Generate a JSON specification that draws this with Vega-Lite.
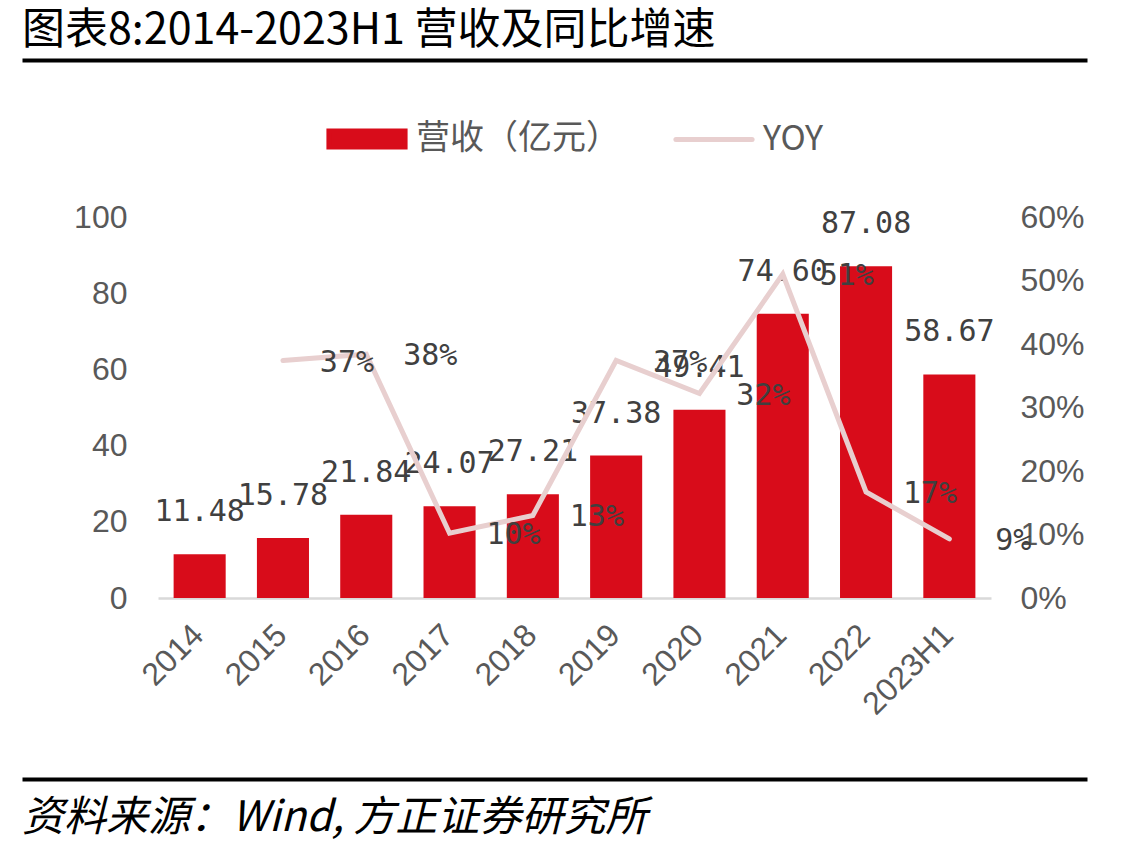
{
  "$schema": "https://vega.github.io/schema/vega-lite/v6.json",
  "background": "white",
  "padding": {"left": 22, "top": 10, "right": 0, "bottom": 0},
  "spacing": 0,
  "resolve": {"legend": {"color": "independent"}, "scale": {"color": "independent", "x": "independent"}},
  "config": {"view": {"stroke": null}, "legend": {"layout": {"top": {"anchor": "middle"}}}},
  "data": {"values": [
    {"year": "2014", "rev": 11.48, "yoy": null},
    {"year": "2015", "rev": 15.78, "yoy": 0.374},
    {"year": "2016", "rev": 21.84, "yoy": 0.384},
    {"year": "2017", "rev": 24.07, "yoy": 0.102},
    {"year": "2018", "rev": 27.21, "yoy": 0.130},
    {"year": "2019", "rev": 37.38, "yoy": 0.374},
    {"year": "2020", "rev": 49.41, "yoy": 0.322},
    {"year": "2021", "rev": 74.60, "yoy": 0.510},
    {"year": "2022", "rev": 87.08, "yoy": 0.167},
    {"year": "2023H1", "rev": 58.67, "yoy": 0.093}
  ]},
  "vconcat": [
    {
      "width": 929,
      "height": 38,
      "title": {"text": "图表8:2014-2023H1 营收及同比增速", "anchor": "start", "frame": "group", "fontSize": 43, "font": "Noto Sans CJK SC", "fontWeight": "normal", "color": "#000000", "offset": 7, "dx": -136},
      "mark": {"type": "point", "opacity": 0},
      "encoding": {
        "x": {"field": "rev", "type": "quantitative", "scale": {"domain": [0, 100], "range": [-136, 929]},
          "axis": {"orient": "top", "domain": true, "domainColor": "#000000", "domainWidth": 4, "ticks": false, "labels": false, "grid": false, "title": null}}
      }
    },
    {
      "resolve": {"legend": {"color": "independent"}},
      "hconcat": [
        {
          "width": 833,
          "height": 381,
          "encoding": {
            "x": {"field": "year", "type": "nominal", "sort": null,
              "scale": {"paddingInner": 0.375, "paddingOuter": 0.1875},
              "axis": {"title": null, "labelAngle": -45, "labelFontSize": 32, "labelFont": "Liberation Sans", "labelColor": "#595959", "ticks": false, "domainColor": "#D9D9D9", "domainWidth": 2.5, "labelPadding": 21, "labelOffset": -12, "grid": false}}
          },
          "layer": [
            {
              "encoding": {
                "y": {"field": "rev", "type": "quantitative", "scale": {"domain": [0, 100], "nice": false},
                  "axis": {"title": null, "values": [0, 20, 40, 60, 80, 100], "grid": false, "domain": false, "ticks": false, "labelFontSize": 32, "labelFont": "Liberation Sans", "labelColor": "#595959", "labelPadding": 31, "minExtent": 136, "maxExtent": 200}}
              },
              "layer": [
                {
                  "mark": {"type": "bar", "color": "#D80C1A"},
                  "encoding": {
                    "color": {"datum": "营收（亿元）", "scale": {"domain": ["营收（亿元）", "YOY"], "range": ["#D80C1A", "#E8CFCF"]},
                      "legend": {"title": null, "orient": "top", "direction": "horizontal", "symbolSize": 5800, "labelFontSize": 34, "labelFont": "Noto Sans CJK SC", "labelColor": "#595959", "labelOffset": 8, "labelLimit": 400, "columnPadding": 45, "offset": 60,
                        "encode": {"symbols": {"update": {
                          "shape": {"signal": "datum.value === 'YOY' ? 'M-1,0H1' : 'M-1,-0.21H1V0.21H-1Z'"},
                          "fill": {"signal": "datum.value === 'YOY' ? 'transparent' : '#D80C1A'"},
                          "stroke": {"signal": "datum.value === 'YOY' ? '#E8CFCF' : 'transparent'"},
                          "strokeWidth": {"value": 5},
                          "strokeCap": {"value": "round"},
                          "opacity": {"value": 1}
                        }}}}
                    }
                  }
                },
                {
                  "mark": {"type": "text", "font": "DejaVu Sans Mono", "fontSize": 30, "color": "#404040", "baseline": "middle", "align": "center", "dy": -42},
                  "encoding": {"text": {"field": "rev", "type": "quantitative", "format": ".2f"}}
                }
              ]
            },
            {
              "transform": [{"filter": "datum.yoy != null"}],
              "encoding": {
                "y": {"field": "yoy", "type": "quantitative", "scale": {"domain": [0, 0.6], "nice": false},
                  "axis": {"orient": "right", "title": null, "format": ".0%", "values": [0, 0.1, 0.2, 0.3, 0.4, 0.5, 0.6], "grid": false, "domain": false, "ticks": false, "labelFontSize": 32, "labelFont": "Liberation Sans", "labelColor": "#595959", "labelPadding": 29}}
              },
              "layer": [
                {
                  "mark": {"type": "line", "strokeWidth": 5, "strokeCap": "round"},
                  "encoding": {"color": {"datum": "YOY"}}
                },
                {
                  "mark": {"type": "text", "font": "DejaVu Sans Mono", "fontSize": 30, "color": "#404040", "baseline": "middle", "align": "center", "dx": 64, "dy": 2},
                  "encoding": {"text": {"field": "yoy", "type": "quantitative", "format": ".0%"}}
                }
              ]
            }
          ],
          "resolve": {"scale": {"y": "independent"}}
        }
      ]
    },
    {
      "width": 929,
      "height": 58,
      "title": {"text": "资料来源：Wind, 方正证券研究所", "orient": "bottom", "anchor": "start", "frame": "group", "fontSize": 42, "font": "Noto Sans CJK SC", "fontStyle": "italic", "fontWeight": "normal", "color": "#000000", "offset": 19, "dx": -136},
      "mark": {"type": "point", "opacity": 0},
      "encoding": {
        "x": {"field": "rev", "type": "quantitative", "scale": {"domain": [0, 100], "range": [-136, 929]},
          "axis": {"orient": "bottom", "domain": true, "domainColor": "#000000", "domainWidth": 4, "ticks": false, "labels": false, "grid": false, "title": null}}
      }
    }
  ]
}
